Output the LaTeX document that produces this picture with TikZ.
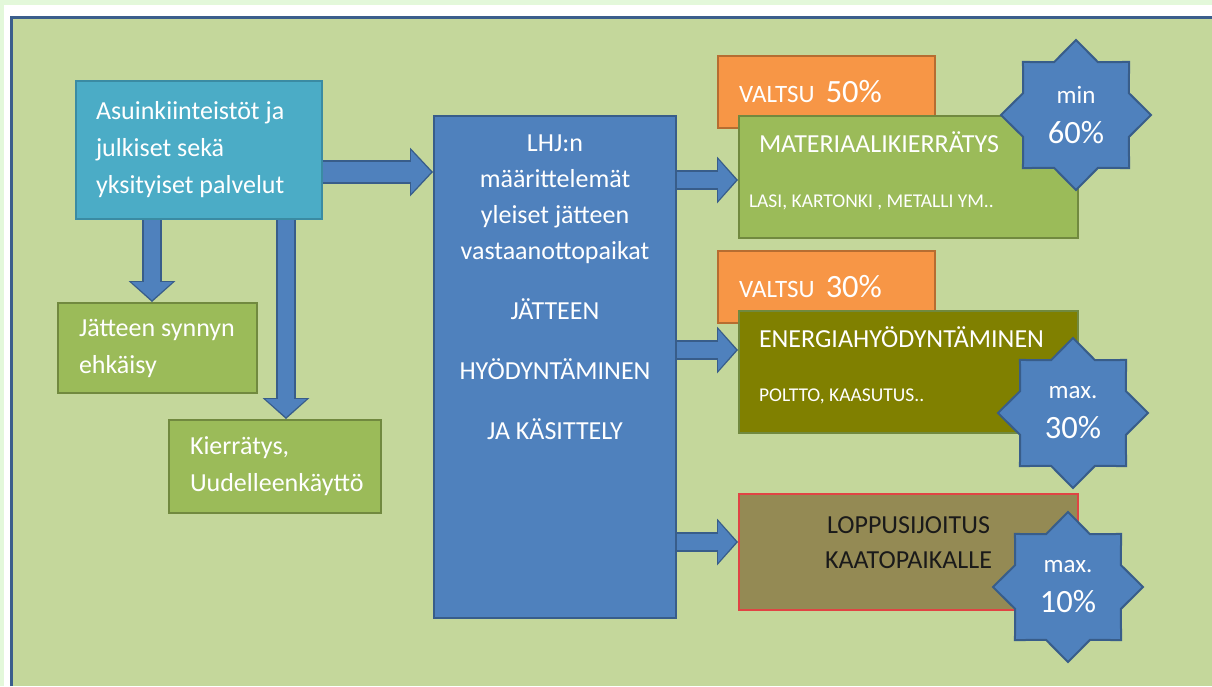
\documentclass[tikz,border=0pt]{standalone}
\usepackage{fontspec}
\setmainfont{Carlito}
\usepackage{tikz}
\usetikzlibrary{positioning,arrows.meta,shapes.geometric}
\definecolor{pagegreen}{HTML}{E3F8DA}
\definecolor{framebg}{HTML}{C4D79B}
\definecolor{frameline}{HTML}{3B5E8C}
\definecolor{cyanfill}{HTML}{4BACC6}
\definecolor{cyanedge}{HTML}{3A8BA3}
\definecolor{leafgreen}{HTML}{9BBB59}
\definecolor{leafedge}{HTML}{71893F}
\definecolor{midblue}{HTML}{4F81BD}
\definecolor{midedge}{HTML}{385D8A}
\definecolor{valtsuorange}{HTML}{F79646}
\definecolor{valtsuedge}{HTML}{B66D31}
\definecolor{olivefill}{HTML}{808000}
\definecolor{loppufill}{HTML}{948A54}
\definecolor{loppuedge}{HTML}{E04444}
\definecolor{loppudark}{HTML}{1A1A1A}
\newcommand\smallfont{\fontsize{19.5}{22}\selectfont}
\newcommand\tagfont{\fontsize{25}{28}\selectfont}
\newcommand\pctfont{\fontsize{32.5}{28}\selectfont}
\tikzset{
  box/.style={draw, line width=2pt, anchor=north west, inner xsep=20pt, inner ysep=0pt,
              align=flush left, text=white, font=\fontsize{26}{37}\selectfont},
  cyanbox/.style={box, fill=cyanfill, draw=cyanedge},
  leafbox/.style={box, fill=leafgreen, draw=leafedge},
  midbox/.style={box, fill=midblue, draw=midedge},
  valtsubox/.style={box, fill=valtsuorange, draw=valtsuedge, inner xsep=21pt},
  olivebox/.style={box, fill=olivefill, draw=leafedge},
  loppubox/.style={box, fill=loppufill, draw=loppuedge, align=flush center, text=loppudark,
                   font=\fontsize{26}{35}\selectfont},
  plaintext/.style={inner sep=0pt, align=center, text=white, font=\fontsize{26}{36}\selectfont},
  bigarrow/.style={draw=midblue, line width=16pt, shorten >=2pt,
                   -{Triangle[length=18pt,width=41pt,line width=0pt]},
                   preaction={draw=midedge, line width=20pt, shorten >=0pt,
                              -{Triangle[length=21pt,width=47pt,line width=0pt]}}},
  widearrow/.style={draw=midblue, line width=20pt, shorten >=2pt,
                   -{Triangle[length=20pt,width=43pt,line width=0pt]},
                   preaction={draw=midedge, line width=24pt, shorten >=0pt,
                              -{Triangle[length=23pt,width=49pt,line width=0pt]}}},
  starnode/.style={star, star points=8, star point ratio=1.31, minimum size=150pt,
                   inner sep=0pt, fill=midblue, draw=midedge, line width=2pt,
                   text=white, align=center, font=\fontsize{32.5}{40}\selectfont},
}
\begin{document}
\begin{tikzpicture}[x=1pt, y=-1pt]
  \useasboundingbox (0,0) rectangle (1212,686);
  % frame
  \fill[pagegreen] (0,0) rectangle (1212,686);
  \fill[white] (4,5) rectangle (1212,686);
  \fill[framebg] (11,17) rectangle (1212,686);
  \draw[frameline, line width=3pt] (11,686) -- (11,17) -- (1212,17);

  % left side
  \node[cyanbox, text width=206pt, minimum height=138pt] (src) at (75,80)
    {Asuinkiinteistöt~ja\\julkiset~sekä\\yksityiset~palvelut};
  \node[leafbox, inner xsep=21pt, text width=157pt, minimum height=90pt] (prev) at (57,302)
    {Jätteen~synnyn\\ehkäisy};
  \node[leafbox, inner xsep=21pt, text width=170pt, minimum height=93pt] (kier) at (168,419)
    {Kierrätys,\\Uudelleenkäyttö};

  % middle
  \node[midbox, minimum width=242pt, minimum height=502pt] (mid) at (433,115) {};
  \node[plaintext, below=20pt of mid.north] (midtext)
    {LHJ:n\\määrittelemät\\yleiset jätteen\\vastaanottopaikat\\[24pt]JÄTTEEN\\[24pt]HYÖDYNTÄMINEN\\[24pt]JA KÄSITTELY};

  % right side
  \node[valtsubox, text width=175pt, minimum height=72pt] (valtsu1) at (717,55)
    {{\tagfont VALTSU}\hspace{11pt}{\pctfont 50\%}};
  \node[leafbox, text width=299pt, minimum height=122pt, text depth=70pt] (mat) at (738,115)
    {MATERIAALIKIERRÄTYS\\[18pt]{\smallfont\hspace*{-10pt}LASI,~KARTONKI~,~METALLI~YM..}};
  \node[valtsubox, text width=175pt, minimum height=72pt] (valtsu2) at (717,250)
    {{\tagfont VALTSU}\hspace{11pt}{\pctfont 30\%}};
  \node[olivebox, text width=299pt, minimum height=122pt, text depth=70pt] (energy) at (738,310)
    {ENERGIAHYÖDYNTÄMINEN\\[17pt]{\smallfont POLTTO,~KAASUTUS..}};
  \node[loppubox, text width=299pt, minimum height=116pt, text depth=54pt] (loppu) at (738,493)
    {LOPPUSIJOITUS\\KAATOPAIKALLE};

  % stars
  \node[starnode] (star1) at (1076,115) {{\tagfont min}\\60\%};
  \node[starnode] (star2) at (1073,413) {{\tagfont max.}\\30\%};
  \node[starnode] (star3) at (1068,587) {{\tagfont max.}\\10\%};

  % arrows
  \draw[widearrow] (src.east |- 0,172) -- (mid.west |- 0,172);
  \draw[bigarrow] (src.south -| 152,0) -- (prev.north -| 152,0);
  \draw[bigarrow] (src.south -| 286,0) -- (kier.north -| 286,0);
  \draw[bigarrow] (mid.east |- 0,180) -- (mat.west |- 0,180);
  \draw[bigarrow] (mid.east |- 0,350) -- (energy.west |- 0,350);
  \draw[bigarrow] (mid.east |- 0,542) -- (loppu.west |- 0,542);
\end{tikzpicture}
\end{document}
